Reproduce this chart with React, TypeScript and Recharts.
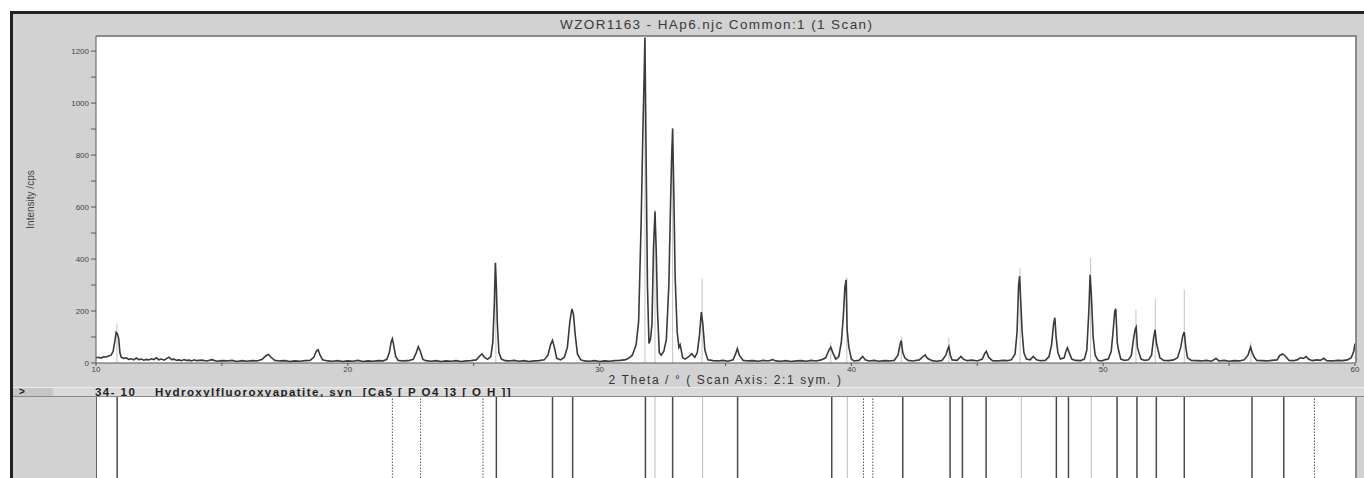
import { ComposedChart, Line, XAxis, YAxis, ReferenceLine, Label } from 'recharts'

const scan10to15: [number, number][] = [
  [10.0, 20], [10.1, 22], [10.2, 19], [10.3, 24], [10.4, 23], [10.5, 27], [10.6, 30], [10.68, 45],
  [10.75, 85], [10.8, 118], [10.85, 112], [10.9, 95], [10.95, 40], [11.0, 22], [11.1, 18], [11.2, 20],
  [11.3, 14], [11.4, 16], [11.5, 12], [11.6, 19], [11.7, 13], [11.8, 15], [11.9, 11], [12.0, 14],
  [12.1, 12], [12.2, 16], [12.3, 13], [12.4, 20], [12.5, 12], [12.6, 15], [12.7, 11], [12.8, 17],
  [12.9, 22], [13.0, 13], [13.1, 15], [13.2, 10], [13.3, 12], [13.4, 9], [13.5, 13], [13.6, 10],
  [13.7, 11], [13.8, 8], [13.9, 12], [14.0, 9], [14.2, 11], [14.4, 8], [14.6, 13], [14.8, 7], [15.0, 9]
]

const scan15to25: [number, number][] = [
  [15.2, 8], [15.4, 10], [15.6, 6], [15.8, 9], [16.0, 7], [16.2, 9], [16.4, 8], [16.6, 14],
  [16.75, 28], [16.85, 33], [16.95, 22], [17.1, 10], [17.3, 8], [17.5, 9], [17.7, 6], [17.9, 8],
  [18.1, 7], [18.3, 9], [18.5, 10], [18.65, 22], [18.75, 45], [18.82, 51], [18.9, 30], [19.0, 12],
  [19.2, 8], [19.4, 7], [19.6, 9], [19.8, 6], [20.0, 8], [20.2, 7], [20.4, 10], [20.6, 6],
  [20.8, 8], [21.0, 7], [21.2, 9], [21.4, 8], [21.55, 14], [21.65, 40], [21.72, 80], [21.77, 93],
  [21.82, 70], [21.9, 25], [22.0, 10], [22.2, 8], [22.4, 9], [22.6, 14], [22.72, 40], [22.8, 63],
  [22.88, 45], [22.98, 14], [23.1, 9], [23.3, 7], [23.5, 9], [23.7, 6], [23.9, 8], [24.1, 7],
  [24.3, 9], [24.5, 6], [24.7, 8], [24.9, 9]
]

const scan25to31: [number, number][] = [
  [25.1, 12], [25.25, 28], [25.33, 35], [25.42, 22], [25.55, 14], [25.68, 25], [25.76, 80], [25.82, 230],
  [25.86, 386], [25.9, 292], [25.94, 150], [26.0, 40], [26.1, 15], [26.25, 9], [26.4, 8], [26.6, 10],
  [26.8, 7], [27.0, 9], [27.2, 6], [27.4, 8], [27.6, 9], [27.8, 12], [27.95, 30], [28.05, 70],
  [28.13, 87], [28.2, 62], [28.3, 18], [28.45, 12], [28.6, 22], [28.72, 60], [28.82, 160], [28.9, 208],
  [28.96, 190], [29.03, 110], [29.12, 35], [29.25, 12], [29.4, 8], [29.6, 7], [29.8, 9], [30.0, 6],
  [30.2, 8], [30.4, 7], [30.6, 9], [30.8, 10]
]

const scan31to36: [number, number][] = [
  [31.0, 12], [31.15, 18], [31.3, 30], [31.45, 70], [31.55, 160], [31.65, 540], [31.72, 900], [31.77, 1102],
  [31.8, 1252], [31.84, 860], [31.9, 300], [31.96, 75], [32.02, 90], [32.08, 150], [32.14, 440], [32.2, 583],
  [32.25, 430], [32.3, 200], [32.37, 40], [32.45, 30], [32.55, 45], [32.65, 90], [32.75, 300], [32.82, 620],
  [32.86, 787], [32.9, 902], [32.95, 640], [33.0, 330], [33.08, 120], [33.15, 60], [33.2, 70], [33.3, 20],
  [33.4, 15], [33.55, 25], [33.66, 36], [33.78, 22], [33.88, 40], [33.97, 110], [34.04, 196], [34.1, 150],
  [34.18, 50], [34.3, 12], [34.5, 9], [34.7, 8], [34.9, 10], [35.1, 7], [35.3, 12], [35.4, 35],
  [35.47, 55], [35.55, 30], [35.7, 10], [35.9, 8]
]

const scan36to45: [number, number][] = [
  [36.1, 9], [36.3, 7], [36.5, 10], [36.7, 8], [36.87, 13], [37.0, 8], [37.2, 7], [37.4, 9],
  [37.6, 6], [37.8, 8], [38.0, 9], [38.2, 7], [38.4, 10], [38.6, 8], [38.8, 12], [38.98, 20],
  [39.1, 48], [39.18, 61], [39.26, 40], [39.38, 15], [39.5, 25], [39.6, 80], [39.68, 180], [39.74, 290],
  [39.79, 320], [39.83, 128], [39.9, 60], [40.0, 15], [40.1, 8], [40.3, 10], [40.45, 25], [40.55, 12],
  [40.7, 8], [40.9, 10], [41.1, 7], [41.3, 9], [41.5, 8], [41.7, 10], [41.85, 30], [41.93, 70],
  [41.98, 87], [42.04, 40], [42.12, 20], [42.25, 10], [42.45, 8], [42.7, 12], [42.85, 25], [42.93, 31],
  [43.02, 18], [43.2, 9], [43.4, 7], [43.6, 10], [43.75, 30], [43.83, 55], [43.87, 63], [43.93, 30],
  [44.0, 12], [44.2, 10], [44.35, 25], [44.45, 14], [44.6, 9], [44.8, 11]
]

const scan45to50: [number, number][] = [
  [45.0, 8], [45.2, 15], [45.3, 38], [45.36, 45], [45.45, 22], [45.6, 9], [45.8, 8], [46.0, 10],
  [46.2, 9], [46.35, 12], [46.5, 35], [46.58, 120], [46.64, 300], [46.68, 334], [46.73, 228], [46.78, 120],
  [46.85, 40], [46.95, 15], [47.1, 12], [47.22, 25], [47.35, 12], [47.5, 9], [47.7, 10], [47.85, 25],
  [47.95, 70], [48.03, 150], [48.08, 174], [48.13, 99], [48.2, 40], [48.3, 15], [48.45, 20], [48.52, 45],
  [48.58, 58], [48.65, 40], [48.75, 15], [48.9, 10], [49.1, 9], [49.25, 15], [49.35, 50], [49.43, 200],
  [49.48, 339], [49.53, 260], [49.6, 100], [49.68, 30], [49.8, 10], [49.95, 8]
]

const scan50to60: [number, number][] = [
  [50.05, 12], [50.2, 15], [50.32, 45], [50.4, 130], [50.46, 200], [50.5, 208], [50.56, 76], [50.62, 45],
  [50.7, 15], [50.85, 10], [51.0, 12], [51.12, 30], [51.2, 90], [51.27, 130], [51.31, 138], [51.36, 60],
  [51.42, 40], [51.5, 15], [51.65, 10], [51.8, 12], [51.92, 30], [52.0, 95], [52.06, 128], [52.12, 74],
  [52.18, 50], [52.25, 20], [52.4, 10], [52.6, 9], [52.8, 12], [52.95, 20], [53.08, 60], [53.16, 105],
  [53.22, 119], [53.28, 60], [53.35, 20], [53.5, 10], [53.7, 9], [53.9, 8], [54.1, 10], [54.3, 7],
  [54.48, 17], [54.6, 8], [54.8, 10], [55.0, 7], [55.2, 9], [55.4, 8], [55.6, 12], [55.75, 30],
  [55.85, 61], [55.92, 40], [56.0, 22], [56.1, 10], [56.3, 9], [56.5, 8], [56.7, 10], [56.9, 12],
  [57.02, 30], [57.13, 35], [57.25, 25], [57.38, 10], [57.55, 9], [57.7, 12], [57.83, 20], [57.95, 18],
  [58.06, 25], [58.15, 15], [58.3, 9], [58.5, 12], [58.62, 10], [58.76, 18], [58.88, 9], [59.1, 8],
  [59.3, 10], [59.5, 9], [59.7, 12], [59.85, 20], [59.95, 45], [60.0, 75]
]

// reference pattern overlay in the scan plot: [2theta, height]
const overlaySticks: [number, number][] = [
  [10.83, 152], [25.88, 386], [31.8, 1258], [32.2, 590], [32.9, 905], [34.07, 325], [39.18, 80],
  [39.82, 330], [41.98, 102], [43.87, 98], [46.7, 364], [49.5, 405], [51.3, 205], [52.07, 247],
  [53.22, 282], [55.87, 80]
]

// card 34-10 line positions
const solidLines = [10.84, 25.9, 28.13, 28.93, 31.82, 32.9, 35.48, 39.22, 42.04, 43.92, 44.41, 45.35,
  48.14, 48.62, 50.55, 51.34, 52.11, 53.22, 55.91, 57.17]
const faintLines = [32.2, 34.09, 39.84, 46.75, 49.53]
const dottedLines = [21.77, 22.89, 25.37, 40.48, 40.85, 58.39]

const xTicks = [10, 15, 20, 25, 30, 35, 40, 45, 50, 55, 60]
const yTicks = [0, 100, 200, 300, 400, 500, 600, 700, 800, 900, 1000, 1100, 1200]

const scan = [...scan10to15, ...scan15to25, ...scan25to31, ...scan31to36, ...scan36to45, ...scan45to50, ...scan50to60]
  .map(([t, c]) => ({ t, c }))

const cardData = [...solidLines, ...faintLines, ...dottedLines].sort((a, b) => a - b).map((pos) => ({ pos, h: 0.5 }))

const abs = (l: number, t: number, w: number, h: number) => ({ position: 'absolute' as const, left: l, top: t, width: w, height: h })

export default function App() {
  return (
    <div style={{ ...abs(0, 0, 1364, 478), background: '#fff', overflow: 'hidden', fontFamily: '"Liberation Sans", Arial, sans-serif' }}>
      {/* window frame */}
      <div style={{ ...abs(10, 11, 1354, 467), background: '#d2d2d2', borderTop: '3px solid #222', borderLeft: '3px solid #222', boxSizing: 'border-box' }} />
      <div style={{ ...abs(560, 14, 420, 21), lineHeight: '21px', fontSize: 13.5, letterSpacing: 1.4, color: '#3a3a3a', whiteSpace: 'nowrap' }}>
        WZOR1163 - HAp6.njc Common:1 (1 Scan)
      </div>
      <div style={{ ...abs(96, 35, 1261, 328), background: '#fff', borderTop: '2px solid #8a8a8a', borderRight: '2px solid #8a8a8a', boxSizing: 'border-box' }} />

      <ComposedChart width={1352} height={373} data={scan} margin={{ top: 22, right: 9, bottom: 0, left: 0 }}
        style={{ position: 'absolute', left: 12, top: 14 }}>
        <XAxis dataKey='t' type='number' domain={[10, 60]} ticks={xTicks} interval={0} allowDataOverflow
          tickFormatter={(v: number) => (v % 10 === 0 ? String(v) : '')} height={24} tickSize={3} tickMargin={0}
          stroke='#555' tick={{ fill: '#444', fontSize: 8 }}>
          <Label value='2 Theta / °   ( Scan Axis: 2:1 sym. )' position='insideBottom' offset={3}
            style={{ fontSize: 12, letterSpacing: 1.6, fill: '#333', whiteSpace: 'pre' }} />
        </XAxis>
        <YAxis type='number' domain={[0, 1258]} ticks={yTicks} interval={0} allowDataOverflow width={84}
          tickFormatter={(v: number) => (v % 200 === 0 ? String(v) : '')} tickSize={5} tickMargin={2}
          stroke='#555' tick={{ fill: '#444', fontSize: 8 }}>
          <Label value='Intensity /cps' angle={-90} position='insideLeft' offset={18}
            style={{ textAnchor: 'middle', fontSize: 10, fill: '#444' }} />
        </YAxis>
        {overlaySticks.map(([x, h]) => (
          <ReferenceLine key={'o' + x} segment={[{ x, y: 0 }, { x, y: h }]} stroke='#c4c4c4' strokeWidth={1} />
        ))}
        <Line type='linear' dataKey='c' stroke='#3a3a3a' strokeWidth={1.6} dot={false} isAnimationActive={false} />
      </ComposedChart>

      {/* card strip */}
      <div style={{ ...abs(13, 387, 1351, 10), background: '#dadada', borderTop: '1px solid #ececec', borderBottom: '1px solid #8a8a8a', boxSizing: 'border-box' }} />
      <div style={{ ...abs(13, 388, 40, 8), background: '#c6c6c6' }} />
      <div style={{ ...abs(19, 386, 20, 12), fontSize: 10, fontWeight: 700, color: '#222', lineHeight: '12px' }}>&gt;</div>
      <div style={{ ...abs(95, 386, 700, 12), fontSize: 11.5, letterSpacing: 1.45, fontWeight: 700, color: '#222', lineHeight: '12px', whiteSpace: 'pre' }}>
        {'34- 10    Hydroxylfluoroxyapatite, syn  [Ca5 [ P O4 ]3 [ O H ]]'}
      </div>
      <div style={{ ...abs(96, 397, 1261, 81), background: '#fff', borderLeft: '1px solid #666', borderRight: '2px solid #8a8a8a', boxSizing: 'border-box' }} />

      <ComposedChart width={1352} height={81} data={cardData} margin={{ top: 0, right: 9, bottom: 0, left: 84 }}
        style={{ position: 'absolute', left: 12, top: 397 }}>
        <XAxis dataKey='pos' type='number' domain={[10, 60]} hide />
        <YAxis type='number' domain={[0, 1]} hide />
        {faintLines.map((x) => (
          <ReferenceLine key={'f' + x} x={x} stroke='#c8c8c8' strokeWidth={1.2} />
        ))}
        {dottedLines.map((x) => (
          <ReferenceLine key={'d' + x} x={x} stroke='#555' strokeWidth={1} strokeDasharray='1.5 1.5' />
        ))}
        {solidLines.map((x) => (
          <ReferenceLine key={'s' + x} x={x} stroke='#4a4a4a' strokeWidth={1.5} />
        ))}
        <Line type='linear' dataKey='h' stroke='none' dot={false} isAnimationActive={false} />
      </ComposedChart>
    </div>
  )
}
